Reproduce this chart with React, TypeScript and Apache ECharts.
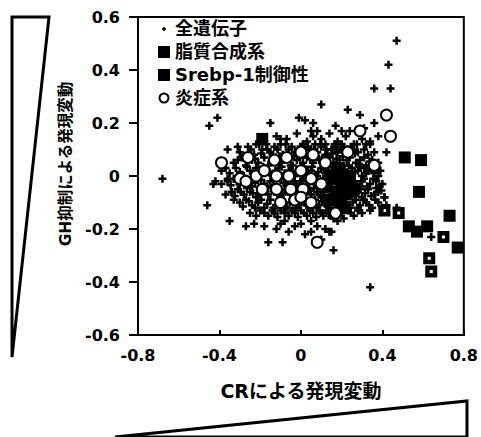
import React, { useEffect, useRef } from "react";
import * as echarts from "echarts";

// 全遺伝子 (all genes) [CR change, GH-suppression change]
const allGenes: [number, number][] = [
  // top fringe
  [-0.18, 0.13], [-0.12, 0.15], [-0.07, 0.14], [-0.02, 0.16], [0.03, 0.13], [0.06, 0.15], [0.1, 0.14], [0.14, 0.16],
  [0.18, 0.13], [0.22, 0.15], [0.26, 0.12], [0.3, 0.14], [-0.22, 0.12], [0.01, 0.12], [0.12, 0.12], [0.2, 0.12],
  [0.34, 0.12], [-0.1, 0.12], [0.08, 0.17], [0.24, 0.17],
  // 0.08 .. 0.12
  [-0.3, 0.09], [-0.26, 0.11], [-0.23, 0.08], [-0.19, 0.1], [-0.15, 0.09], [-0.13, 0.11], [-0.09, 0.08], [-0.06, 0.1],
  [-0.03, 0.09], [0.0, 0.11], [0.02, 0.08], [0.05, 0.1], [0.08, 0.09], [0.1, 0.11], [0.13, 0.08], [0.15, 0.1],
  [0.18, 0.09], [0.21, 0.11], [0.23, 0.08], [0.26, 0.1], [0.28, 0.09], [0.31, 0.1], [0.33, 0.08], [0.36, 0.09],
  [-0.17, 0.12], [0.07, 0.12], [0.17, 0.11], [-0.01, 0.09],
  [-0.245, 0.1], [-0.205, 0.12], [-0.165, 0.1], [-0.115, 0.1], [-0.075, 0.12], [-0.045, 0.11], [-0.015, 0.1], [0.015, 0.1],
  [0.035, 0.11], [0.065, 0.1], [0.095, 0.12], [0.125, 0.1], [0.165, 0.12], [0.195, 0.1], [0.245, 0.11], [0.275, 0.12], [0.32, 0.12],
  // 0.04 .. 0.08
  [-0.33, 0.05], [-0.29, 0.07], [-0.27, 0.04], [-0.24, 0.06], [-0.21, 0.05], [-0.18, 0.07], [-0.16, 0.04], [-0.12, 0.06],
  [-0.1, 0.05], [-0.07, 0.07], [-0.05, 0.04], [-0.02, 0.06], [0.01, 0.05], [0.03, 0.07], [0.06, 0.05], [0.09, 0.06],
  [0.11, 0.04], [0.14, 0.07], [0.16, 0.05], [0.19, 0.06], [0.21, 0.04], [0.24, 0.07], [0.27, 0.05], [0.29, 0.06],
  [0.32, 0.04], [0.35, 0.06], [0.38, 0.05], [-0.14, 0.08], [0.12, 0.08], [0.25, 0.03],
  [-0.31, 0.06], [-0.255, 0.08], [-0.225, 0.065], [-0.195, 0.085], [-0.145, 0.055], [-0.105, 0.075], [-0.085, 0.06], [-0.035, 0.075],
  [-0.005, 0.07], [0.045, 0.065], [0.075, 0.075], [0.105, 0.065], [0.125, 0.055], [0.155, 0.085], [0.175, 0.065], [0.205, 0.075],
  [0.225, 0.06], [0.265, 0.085], [0.285, 0.045], [0.31, 0.07], [0.34, 0.055],
  // 0.0 .. 0.04
  [-0.35, 0.01], [-0.32, 0.03], [-0.28, 0.0], [-0.25, 0.02], [-0.22, 0.03], [-0.2, 0.01], [-0.17, 0.02], [-0.14, 0.0],
  [-0.11, 0.03], [-0.08, 0.01], [-0.06, 0.02], [-0.03, 0.0], [0.0, 0.03], [0.02, 0.01], [0.05, 0.02], [0.07, 0.0],
  [0.1, 0.03], [0.12, 0.01], [0.15, 0.02], [0.17, 0.0], [0.2, 0.03], [0.22, 0.01], [0.25, 0.0], [0.28, 0.02],
  [0.3, 0.0], [0.33, 0.02], [0.36, 0.01], [0.39, 0.02], [-0.39, 0.02], [0.13, 0.04], [-0.04, 0.04], [0.31, 0.03],
  [-0.37, 0.03], [-0.3, 0.015], [-0.265, 0.035], [-0.235, 0.01], [-0.185, 0.035], [-0.155, 0.015], [-0.125, 0.02], [-0.095, 0.035],
  [-0.065, 0.0], [-0.045, 0.02], [-0.015, 0.015], [0.015, 0.035], [0.035, 0.02], [0.055, 0.035], [0.085, 0.015], [0.115, 0.025],
  [0.135, 0.015], [0.16, 0.035], [0.185, 0.015], [0.215, 0.025], [0.235, 0.04], [0.265, 0.015], [0.29, 0.035], [0.32, 0.01],
  [0.35, 0.03], [0.38, 0.0],
  // -0.04 .. 0.0
  [-0.36, -0.02], [-0.33, -0.01], [-0.3, -0.03], [-0.27, -0.02], [-0.24, -0.04], [-0.21, -0.01], [-0.18, -0.03], [-0.15, -0.02],
  [-0.12, -0.04], [-0.1, -0.01], [-0.07, -0.03], [-0.04, -0.02], [-0.01, -0.04], [0.01, -0.01], [0.04, -0.03], [0.06, -0.02],
  [0.09, -0.04], [0.11, -0.01], [0.14, -0.03], [0.16, -0.02], [0.19, -0.04], [0.21, -0.01], [0.24, -0.03], [0.26, -0.02],
  [0.29, -0.04], [0.31, -0.01], [0.34, -0.03], [0.37, -0.02], [0.4, -0.03], [-0.42, -0.02], [0.08, 0.0], [-0.13, 0.0],
  [-0.39, -0.03], [-0.345, -0.035], [-0.315, -0.02], [-0.285, -0.01], [-0.255, -0.03], [-0.225, -0.025], [-0.195, -0.015], [-0.165, -0.04],
  [-0.135, -0.015], [-0.085, -0.025], [-0.055, -0.01], [-0.025, -0.03], [0.0, -0.02], [0.025, -0.035], [0.045, -0.01], [0.075, -0.03],
  [0.1, -0.02], [0.125, -0.035], [0.15, -0.01], [0.175, -0.03], [0.2, -0.02], [0.23, -0.04], [0.25, -0.01], [0.275, -0.03],
  [0.3, -0.02], [0.325, -0.04], [0.355, -0.01], [0.385, -0.04],
  // -0.08 .. -0.04
  [-0.34, -0.06], [-0.31, -0.05], [-0.28, -0.07], [-0.25, -0.06], [-0.22, -0.08], [-0.19, -0.05], [-0.16, -0.07], [-0.13, -0.06],
  [-0.1, -0.08], [-0.08, -0.05], [-0.05, -0.07], [-0.02, -0.06], [0.0, -0.08], [0.03, -0.05], [0.05, -0.07], [0.08, -0.06],
  [0.1, -0.08], [0.13, -0.05], [0.15, -0.07], [0.18, -0.06], [0.2, -0.08], [0.23, -0.05], [0.25, -0.07], [0.28, -0.06],
  [0.3, -0.08], [0.33, -0.05], [0.36, -0.07], [0.38, -0.06], [0.41, -0.08], [-0.37, -0.07],
  [-0.325, -0.075], [-0.295, -0.06], [-0.265, -0.045], [-0.235, -0.065], [-0.205, -0.07], [-0.175, -0.055], [-0.145, -0.045], [-0.115, -0.065],
  [-0.09, -0.07], [-0.065, -0.055], [-0.035, -0.045], [-0.01, -0.065], [0.015, -0.07], [0.04, -0.055], [0.065, -0.045], [0.09, -0.07],
  [0.115, -0.06], [0.14, -0.045], [0.165, -0.075], [0.19, -0.05], [0.215, -0.065], [0.24, -0.045], [0.265, -0.075], [0.29, -0.05],
  [0.315, -0.065], [0.345, -0.075], [0.37, -0.045], [0.395, -0.055],
  // -0.12 .. -0.08
  [-0.3, -0.1], [-0.27, -0.09], [-0.24, -0.11], [-0.21, -0.1], [-0.18, -0.12], [-0.15, -0.09], [-0.12, -0.11], [-0.09, -0.1],
  [-0.07, -0.12], [-0.04, -0.09], [-0.01, -0.11], [0.02, -0.1], [0.04, -0.12], [0.07, -0.09], [0.09, -0.11], [0.12, -0.1],
  [0.14, -0.12], [0.17, -0.09], [0.19, -0.11], [0.22, -0.1], [0.24, -0.12], [0.27, -0.09], [0.29, -0.11], [0.32, -0.1],
  [0.35, -0.12], [0.38, -0.1], [0.42, -0.11], [-0.33, -0.09],
  [-0.285, -0.115], [-0.255, -0.095], [-0.225, -0.12], [-0.195, -0.09], [-0.165, -0.105], [-0.135, -0.12], [-0.105, -0.095], [-0.08, -0.115],
  [-0.055, -0.1], [-0.025, -0.12], [0.005, -0.09], [0.03, -0.11], [0.055, -0.1], [0.08, -0.12], [0.105, -0.095], [0.13, -0.115],
  [0.155, -0.1], [0.18, -0.12], [0.205, -0.09], [0.23, -0.11], [0.255, -0.1], [0.28, -0.12], [0.31, -0.09], [0.335, -0.11],
  [0.365, -0.09], [0.4, -0.12],
  // -0.16 .. -0.12
  [-0.25, -0.14], [-0.2, -0.13], [-0.16, -0.15], [-0.13, -0.14], [-0.1, -0.13], [-0.06, -0.15], [-0.03, -0.14], [0.0, -0.13],
  [0.03, -0.15], [0.06, -0.14], [0.09, -0.13], [0.11, -0.15], [0.14, -0.14], [0.16, -0.16], [0.2, -0.14], [0.23, -0.13],
  [0.26, -0.15], [0.3, -0.14], [0.34, -0.13], [-0.08, -0.17], [0.05, -0.17], [0.18, -0.17],
  [-0.22, -0.15], [-0.18, -0.14], [-0.14, -0.13], [-0.115, -0.155], [-0.08, -0.14], [-0.045, -0.13], [-0.015, -0.155], [0.015, -0.14],
  [0.045, -0.13], [0.075, -0.155], [0.1, -0.14], [0.125, -0.13], [0.15, -0.15], [0.175, -0.13], [0.21, -0.16], [0.245, -0.14], [0.28, -0.13],
  // lower tail
  [-0.23, -0.18], [-0.18, -0.19], [-0.12, -0.2], [-0.1, -0.18], [-0.06, -0.21], [-0.03, -0.19], [0.0, -0.18], [0.02, -0.22],
  [0.05, -0.21], [0.12, -0.2], [0.14, -0.21], [0.16, -0.28], [-0.16, -0.25], [-0.09, -0.25], [0.08, -0.19], [-0.27, -0.19],
  [-0.35, -0.17], [-0.46, -0.11], [0.1, -0.24], [0.15, -0.21],
  // outliers
  [0.47, 0.51], [0.43, 0.42], [0.36, 0.33], [0.44, 0.33], [0.23, 0.25], [0.29, 0.23], [0.36, 0.2], [0.1, 0.27],
  [-0.01, 0.22], [0.02, 0.21], [0.06, 0.2], [-0.15, 0.2], [0.17, 0.19], [0.2, 0.17], [0.05, 0.17], [-0.1, 0.14],
  [-0.41, 0.22], [-0.45, 0.19], [-0.68, -0.01], [-0.36, 0.1], [-0.31, 0.11], [-0.36, -0.01], [-0.43, -0.03], [-0.34, -0.06],
  [0.34, 0.13], [0.42, 0.09], [0.41, -0.08], [0.64, -0.23], [0.34, -0.42], [0.47, -0.12], [0.38, 0.15], [0.31, 0.18],
];

// 脂質合成系 (lipid synthesis)
const lipidGenes: [number, number][] = [
  [0.51, 0.07], [0.59, 0.06], [0.58, -0.06], [0.73, -0.15], [0.53, -0.19], [0.57, -0.21], [0.62, -0.19], [0.77, -0.27],
  [-0.19, 0.14], [0.15, -0.01], [0.18, 0.0], [0.2, -0.03], [0.17, -0.06], [0.22, -0.07], [0.19, -0.1], [0.24, -0.02],
  [0.14, -0.09], [0.21, -0.12], [0.16, -0.14], [0.26, -0.05], [0.13, -0.04], [0.18, 0.03], [0.23, 0.0],
];

// Srebp-1制御性 (Srebp-1 regulated)
const srebpGenes: [number, number][] = [
  [0.41, -0.13], [0.48, -0.14], [0.7, -0.23], [0.63, -0.31], [0.64, -0.36],
];

// 炎症系 (inflammation)
const inflammationGenes: [number, number][] = [
  [0.42, 0.23], [0.44, 0.15], [0.29, 0.17], [0.36, 0.04], [0.23, 0.09], [-0.39, 0.05], [-0.3, -0.01], [-0.26, 0.07],
  [0.08, -0.25], [-0.22, 0.0], [-0.18, 0.02], [-0.13, 0.06], [-0.07, 0.07], [0.0, 0.09], [0.06, 0.08], [-0.12, 0.0],
  [-0.06, 0.0], [0.0, 0.02], [0.05, -0.01], [0.1, -0.03], [-0.19, -0.05], [-0.12, -0.05], [-0.05, -0.05], [0.01, -0.05],
  [-0.03, -0.09], [-0.1, -0.1], [-0.27, -0.02], [0.17, -0.14], [0.0, -0.08], [0.05, -0.1], [0.12, 0.05],
];

const seriesNames = ["全遺伝子", "脂質合成系", "Srebp-1制御性", "炎症系"];
const xTitle = "CRによる発現変動";
const yTitle = "GH抑制による発現変動";

const FONT = "DejaVu Sans, 'Noto Sans CJK JP', sans-serif";
const PLUS = "path://M2.75,0H5.25V2.75H8V5.25H5.25V8H2.75V5.25H0V2.75H2.75Z";
const PLUS_LEGEND = "path://M0,0L0,0M12,12L12,12M5.2,4H6.8V5.2H8V6.8H6.8V8H5.2V6.8H4V5.2H5.2Z";
const CIRCLE_LEGEND = "path://M0,0L0,0M12,12L12,12M10.5,6A4.5,4.5,0,1,1,1.5,6A4.5,4.5,0,1,1,10.5,6Z";
const HOLLOW_SQ = "path://M0,0H12V12H0ZM4.5,4.5V7.5H7.5V4.5Z";

export default function App() {
  const ref = useRef<HTMLDivElement>(null);
  useEffect(() => {
    if (!ref.current) return;
    const chart = echarts.init(ref.current, undefined, { renderer: "svg" });
    chart.setOption({
      animation: false,
      backgroundColor: "#fff",
      textStyle: { fontFamily: FONT },
      grid: {
        left: 138, right: 15, top: 17, bottom: 102,
        show: true, borderColor: "#000", borderWidth: 2, backgroundColor: "transparent",
      },
      legend: {
        orient: "vertical",
        left: 157,
        top: 20,
        padding: 0,
        itemGap: 5,
        itemWidth: 12,
        itemHeight: 12,
        itemStyle: { borderWidth: 0, opacity: 1 },
        textStyle: { fontFamily: FONT, fontWeight: "bold", fontSize: 18, color: "#000" },
        data: [
          { name: seriesNames[0], icon: PLUS_LEGEND },
          { name: seriesNames[1], icon: "rect" },
          { name: seriesNames[2], icon: "rect" },
          { name: seriesNames[3], icon: CIRCLE_LEGEND, itemStyle: { color: "#fff", borderColor: "#000", borderWidth: 2 } },
        ],
      },
      xAxis: {
        type: "value",
        min: -0.8, max: 0.8, interval: 0.4,
        name: xTitle,
        nameLocation: "middle",
        nameGap: 46,
        nameTextStyle: { fontFamily: FONT, fontWeight: "bold", fontSize: 19, color: "#000" },
        axisLine: { show: true, onZero: false, lineStyle: { color: "#000", width: 2 } },
        axisTick: { show: true, inside: true, length: 5, lineStyle: { color: "#000", width: 2 } },
        axisLabel: { margin: 12, fontFamily: FONT, fontWeight: "bold", fontSize: 16, color: "#000" },
        splitLine: { show: false },
      },
      yAxis: {
        type: "value",
        min: -0.6, max: 0.6, interval: 0.2,
        name: yTitle,
        nameLocation: "middle",
        nameRotate: 90,
        nameGap: 56,
        nameTextStyle: { fontFamily: FONT, fontWeight: "bold", fontSize: 15.5, color: "#000", padding: [0, 0, 0, 24] },
        axisLine: { show: true, onZero: false, lineStyle: { color: "#000", width: 2 } },
        axisTick: { show: true, inside: false, length: 9, lineStyle: { color: "#000", width: 2 } },
        axisLabel: { margin: 18, fontFamily: FONT, fontWeight: "bold", fontSize: 16, color: "#000" },
        splitLine: { show: false },
      },
      series: [
        {
          name: seriesNames[0], type: "scatter", data: allGenes,
          symbol: PLUS, symbolSize: 8, itemStyle: { color: "#000", opacity: 1 },
        },
        {
          name: seriesNames[1], type: "scatter", data: lipidGenes,
          symbol: "rect", symbolSize: 12, itemStyle: { color: "#000", opacity: 1 },
        },
        {
          name: seriesNames[2], type: "scatter", data: srebpGenes,
          symbol: HOLLOW_SQ, symbolSize: 12, itemStyle: { color: "#000", opacity: 1 },
        },
        {
          name: seriesNames[3], type: "scatter", data: inflammationGenes,
          symbol: "circle", symbolSize: 11,
          itemStyle: { color: "#fff", borderColor: "#000", borderWidth: 2, opacity: 1 },
        },
      ],
      graphic: [
        {
          type: "polygon",
          shape: { points: [[12, 17], [49, 17], [12, 357]] },
          style: { fill: "#fff", stroke: "#000", lineWidth: 3 },
        },
        {
          type: "polygon",
          shape: { points: [[115, 437], [467, 401], [467, 437]] },
          style: { fill: "#fff", stroke: "#000", lineWidth: 3 },
        },
      ],
    });
    return () => chart.dispose();
  }, []);
  return (
    <div
      ref={ref}
      style={{ position: "fixed", left: 0, top: 0, width: 481, height: 437, background: "#fff" }}
    />
  );
}
